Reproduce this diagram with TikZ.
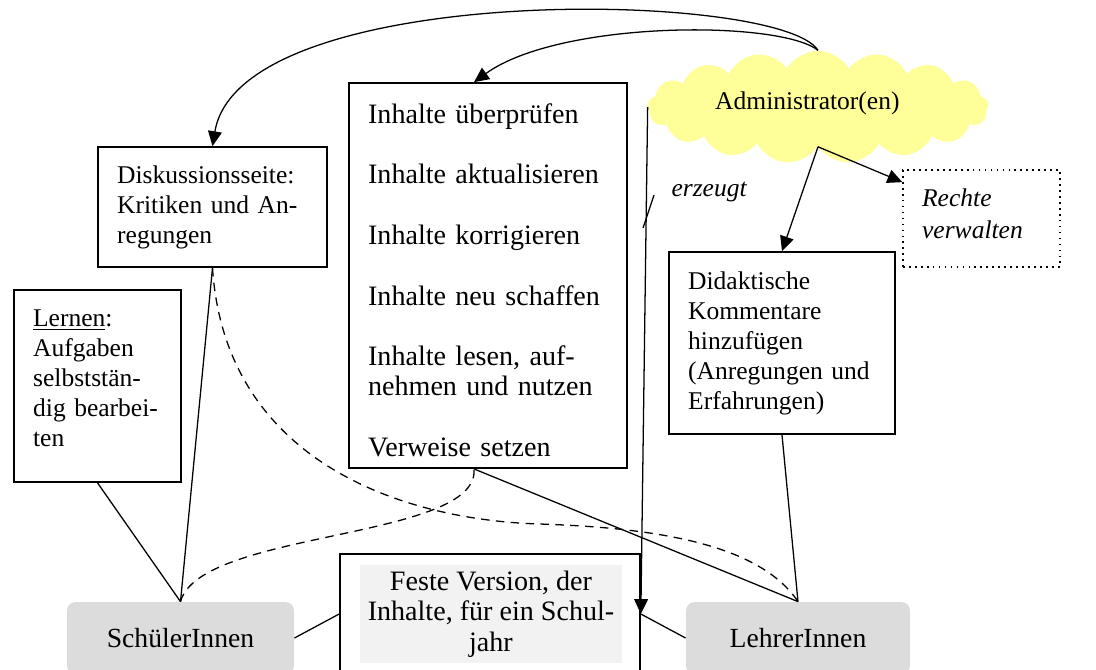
\documentclass[tikz,border=0pt]{standalone}
\usepackage{fontspec}
\setmainfont{Liberation Serif}
\usetikzlibrary{arrows.meta,shapes.symbols,calc}
\definecolor{cloudyellow}{HTML}{FFFF99}
\definecolor{boxgray}{HTML}{DCDCDC}
\definecolor{festegray}{HTML}{F2F2F2}

\begin{document}
\begin{tikzpicture}[x=0.47pt, y=-0.47pt,
    every node/.style = {font=\fontsize{12}{14.1}\selectfont},
    box/.style = {shape=rectangle, draw, line width=0.8pt, align=left,
      inner xsep=9pt, inner ysep=0pt},
    usergroup/.style = {shape=rectangle, rounded corners=4pt, fill=boxgray,
      minimum height=33.8pt, font=\fontsize{13}{15.6}\selectfont},
    link/.style = {line width=0.6pt},
    dashlink/.style = {line width=0.6pt, dash pattern=on 4pt off 3pt},
    arrow/.style = {line width=0.6pt, -{Triangle[length=7pt,width=6.5pt]}}]
  \useasboundingbox (0,0) rectangle (1096,669);
  \clip (0,0) rectangle (1096,669);

  % boxes
  \node[box, text width=89.6pt, minimum height=56.4pt] (diskussion) at (212.5,207)
    {Diskussionsseite:\\ Kritiken und An-\\ regungen};
  \node[box, text width=60.5pt, minimum height=90.2pt] (lernen) at (97.5,386)
    {\underline{Lernen}:\\ Aufgaben\\ selbststän-\\ dig bearbei-\\ ten\rule[-7.5pt]{0pt}{7.5pt}};
  \node[box, text width=112.7pt, minimum height=181pt,
    font=\fontsize{13.2}{14.1}\selectfont] (inhalte) at (488,275.5)
    {\rule{0pt}{13.7pt}Inhalte überprüfen\\[14.4pt] Inhalte aktualisieren\\[14.4pt]
     Inhalte korrigieren\\[14.4pt] Inhalte neu schaffen\\[14.4pt]
     Inhalte lesen, auf-\\ nehmen und nutzen\\[14.4pt] Verweise setzen};
  \node[box, text width=88.2pt, minimum height=85.5pt] (didaktik) at (782,343)
    {Didaktische\\ Kommentare\\ hinzufügen\\ (Anregungen und\\ Erfahrungen)};
  \node[box, dotted, line width=0.6pt, text width=55.8pt, minimum height=45.6pt,
    font=\fontsize{12}{15}\selectfont\itshape] (rechte) at (981.5,218.5)
    {Rechte\\ verwalten\rule[-4.7pt]{0pt}{4.7pt}};
  \node[shape=cloud, fill=cloudyellow, cloud puffs=17, cloud puff arc=120,
    aspect=3.5, minimum width=160pt, minimum height=47pt, inner sep=0pt]
    (admin) at (818,107) {Administrator(en)\kern10pt\rule[-5.6pt]{0pt}{5.6pt}};
  \node[box, minimum width=141pt, minimum height=56.4pt] (feste) at (490,614) {};
  \node[fill=festegray, minimum width=123pt, minimum height=46pt, align=center,
    inner sep=0pt, font=\fontsize{13.2}{14.4}\selectfont] (festetext) at (491,614)
    {Feste Version, der\\ Inhalte, für ein Schul-\\ jahr};
  \node[usergroup, minimum width=106.7pt] (schueler) at (180.5,638) {SchülerInnen};
  \node[usergroup, minimum width=105.3pt] (lehrer) at (798,638) {LehrerInnen};
  \node[anchor=west, font=\fontsize{12}{14.1}\selectfont\itshape] (erzeugt) at (664,192) {erzeugt};

  \coordinate (inhaltetop) at ($(inhalte.north west)!0.45!(inhalte.north east)$);
  \coordinate (inhaltebottom) at ($(inhalte.south west)!0.45!(inhalte.south east)$);
  \coordinate (rechtetip) at ($(rechte.north west)!0.13!(rechte.south west)$);
  \coordinate (dashmid) at (540,524);
  \coordinate (slasha) at (654,195);
  \coordinate (slashb) at (643,228);

  % arrows from the administrators
  \draw[arrow] (admin.north) .. controls (780,-10) and (240,-20) .. (diskussion.north);
  \draw[arrow] (admin.north) .. controls (780,20) and (560,20) .. (inhaltetop);
  \draw[arrow] (admin.south) -- (didaktik.north);
  \draw[arrow] (admin.south) -- (rechtetip);
  \draw[arrow] (admin.west) -- (feste.east);
  \draw[link] (slasha) -- (slashb);

  % links to the user groups
  \draw[link] (diskussion.south) -- (schueler.north);
  \draw[link] (lernen.south) -- (schueler.north);
  \draw[link] (inhaltebottom) -- (lehrer.north);
  \draw[link] (didaktik.south) -- (lehrer.north);
  \draw[link] (schueler.east) -- (feste.west);
  \draw[link] (feste.east) -- (lehrer.west);
  \draw[dashlink] (diskussion.south) .. controls (225,460) and (400,520) .. (dashmid)
    .. controls (660,528) and (760,545) .. (lehrer.north);
  \draw[dashlink] (schueler.north) .. controls (200,530) and (480,540) .. (inhaltebottom);
\end{tikzpicture}
\end{document}
